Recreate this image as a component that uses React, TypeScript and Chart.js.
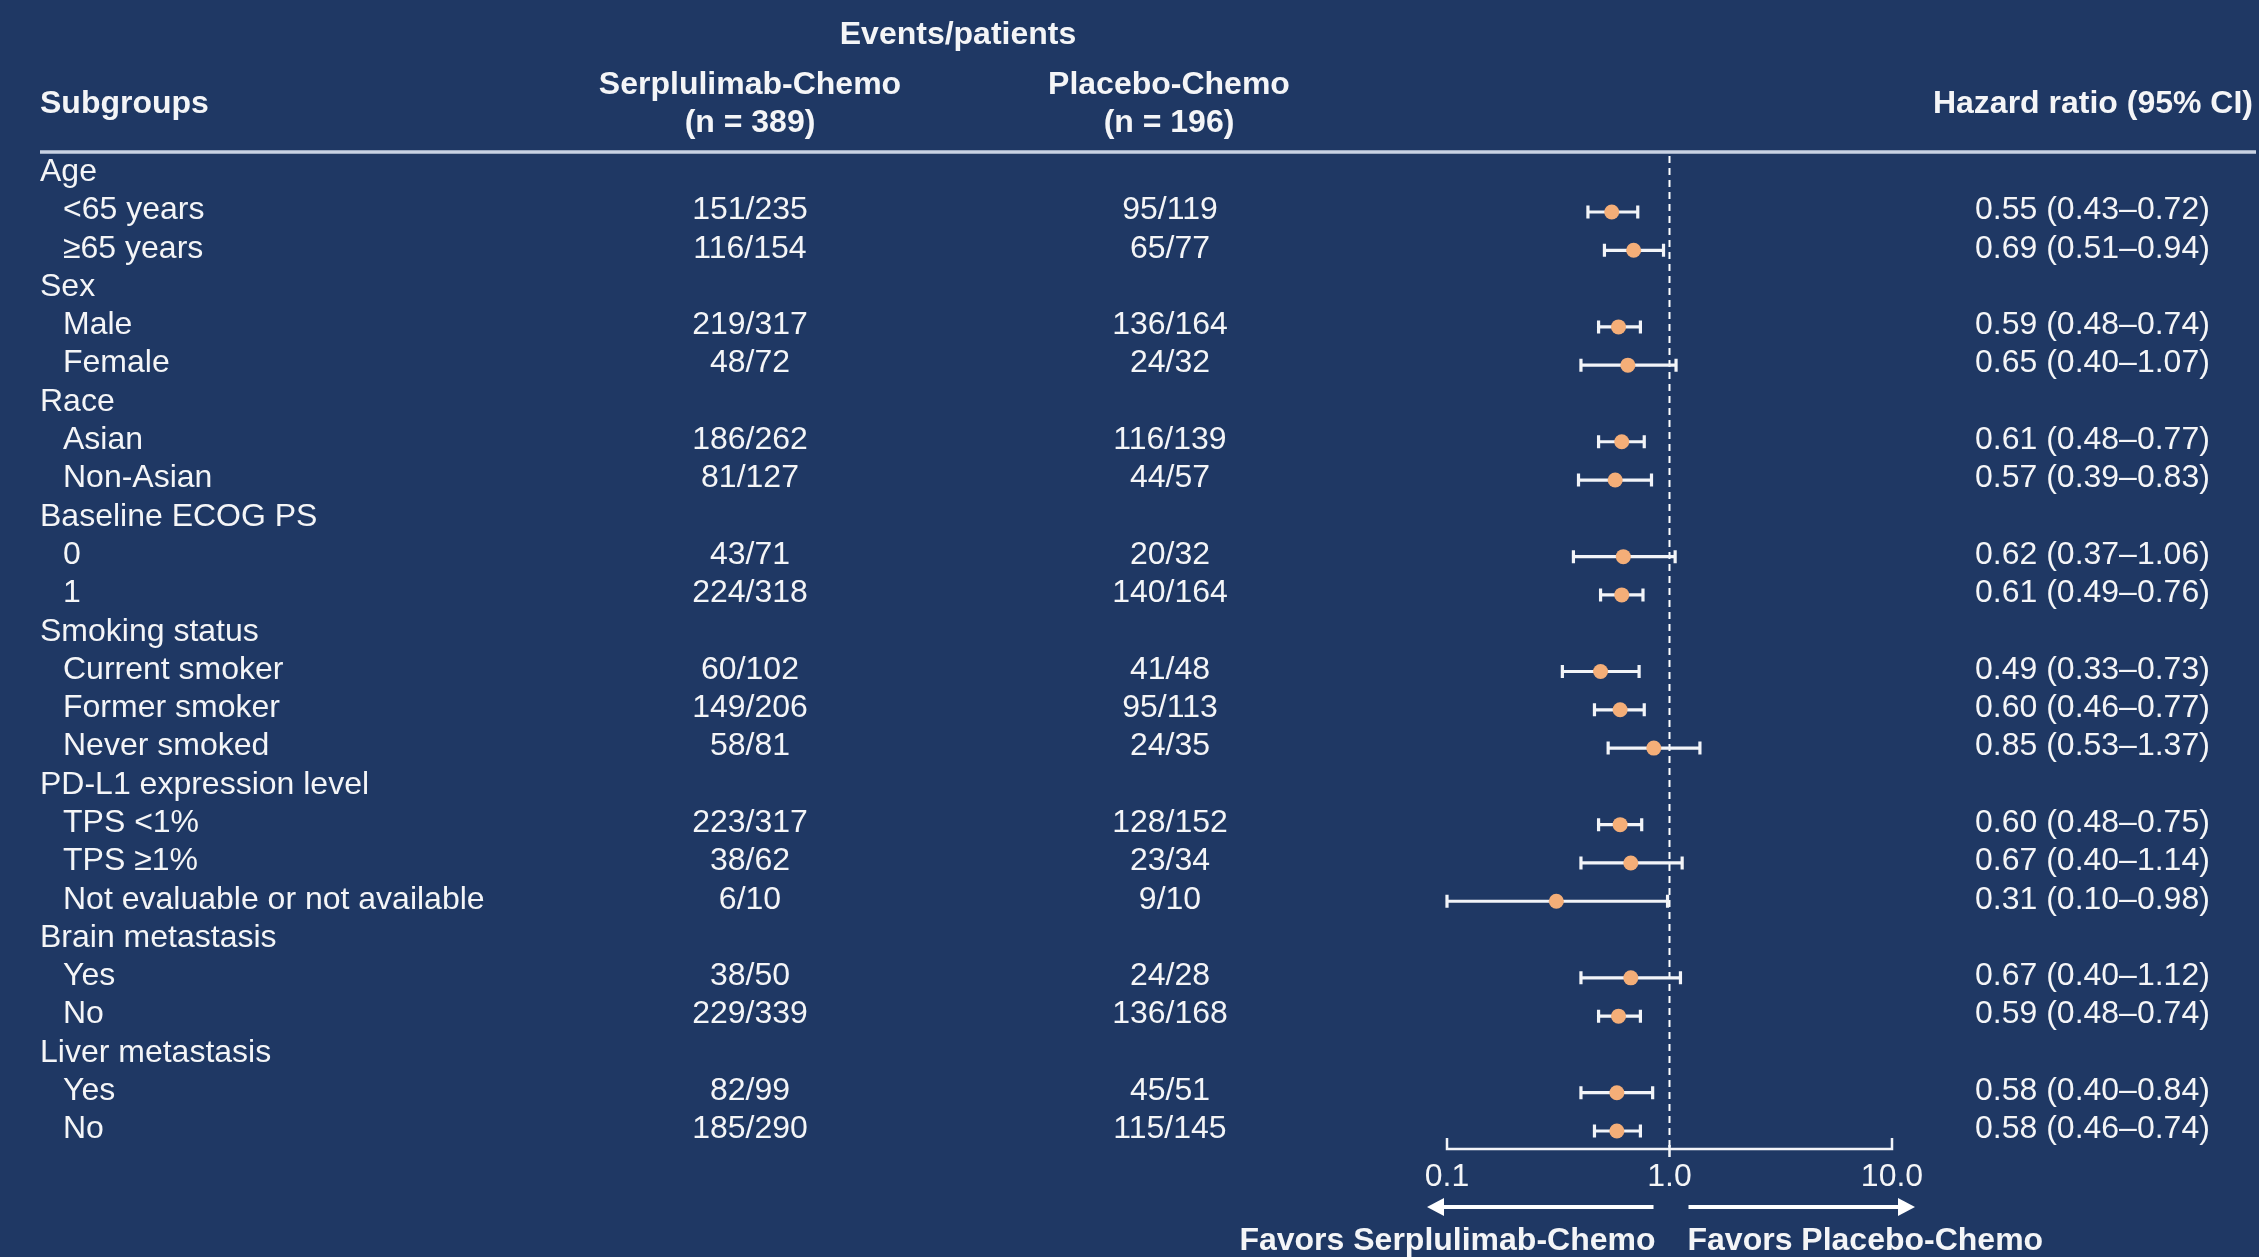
import React, { useEffect, useRef } from "react";
import { Chart, registerables } from "chart.js";

Chart.register(...registerables);

const W = 2259;
const H = 1257;
const BG = "#1F3864";
const TXT = "#F4F5F7";
const DOT = "#F4AE78";
const FONT = '"Liberation Sans", Arial, sans-serif';

const subgroupLabels = [
  "Age", "<65 years", "≥65 years",
  "Sex", "Male", "Female",
  "Race", "Asian", "Non-Asian",
  "Baseline ECOG PS", "0", "1",
  "Smoking status", "Current smoker", "Former smoker", "Never smoked",
  "PD-L1 expression level", "TPS <1%", "TPS ≥1%", "Not evaluable or not available",
  "Brain metastasis", "Yes", "No",
  "Liver metastasis", "Yes", "No",
];

const rowIsHeader = [
  true, false, false,
  true, false, false,
  true, false, false,
  true, false, false,
  true, false, false, false,
  true, false, false, false,
  true, false, false,
  true, false, false,
];

const serplulimabEvents = [
  null, "151/235", "116/154",
  null, "219/317", "48/72",
  null, "186/262", "81/127",
  null, "43/71", "224/318",
  null, "60/102", "149/206", "58/81",
  null, "223/317", "38/62", "6/10",
  null, "38/50", "229/339",
  null, "82/99", "185/290",
];

const placeboEvents = [
  null, "95/119", "65/77",
  null, "136/164", "24/32",
  null, "116/139", "44/57",
  null, "20/32", "140/164",
  null, "41/48", "95/113", "24/35",
  null, "128/152", "23/34", "9/10",
  null, "24/28", "136/168",
  null, "45/51", "115/145",
];

const hazardRatio = [
  null, 0.55, 0.69,
  null, 0.59, 0.65,
  null, 0.61, 0.57,
  null, 0.62, 0.61,
  null, 0.49, 0.60, 0.85,
  null, 0.60, 0.67, 0.31,
  null, 0.67, 0.59,
  null, 0.58, 0.58,
];

const ciLow = [
  null, 0.43, 0.51,
  null, 0.48, 0.40,
  null, 0.48, 0.39,
  null, 0.37, 0.49,
  null, 0.33, 0.46, 0.53,
  null, 0.48, 0.40, 0.10,
  null, 0.40, 0.48,
  null, 0.40, 0.46,
];

const ciHigh = [
  null, 0.72, 0.94,
  null, 0.74, 1.07,
  null, 0.77, 0.83,
  null, 1.06, 0.76,
  null, 0.73, 0.77, 1.37,
  null, 0.75, 1.14, 0.98,
  null, 1.12, 0.74,
  null, 0.84, 0.74,
];

const xTicks = [0.1, 1, 10];

const fmt = (v: number) => v.toFixed(2);

const forestPlugin = {
  id: "forest",
  beforeDraw(chart: any) {
    const ctx = chart.ctx;
    ctx.save();
    ctx.fillStyle = BG;
    ctx.fillRect(0, 0, chart.width, chart.height);
    ctx.restore();
  },
  beforeDatasetsDraw(chart: any) {
    const { ctx, chartArea } = chart;
    const x = chart.scales.x;
    const y = chart.scales.y;
    ctx.save();
    // header rule
    ctx.strokeStyle = "#C9D2E3";
    ctx.lineWidth = 3.5;
    ctx.beginPath();
    ctx.moveTo(40, chartArea.top);
    ctx.lineTo(2256, chartArea.top);
    ctx.stroke();
    // reference dashed line at HR = 1
    const x1 = x.getPixelForValue(1);
    ctx.strokeStyle = "#FFFFFF";
    ctx.lineWidth = 2;
    ctx.setLineDash([7, 5]);
    ctx.beginPath();
    ctx.moveTo(x1, chartArea.top + 4);
    ctx.lineTo(x1, chartArea.bottom);
    ctx.stroke();
    ctx.setLineDash([]);
    // error bars
    ctx.strokeStyle = "#F2F4F8";
    ctx.lineWidth = 3.2;
    for (let i = 0; i < hazardRatio.length; i++) {
      const lo = ciLow[i];
      const hi = ciHigh[i];
      if (lo == null || hi == null) continue;
      const py = y.getPixelForValue(i);
      const pl = x.getPixelForValue(lo);
      const ph = x.getPixelForValue(hi);
      ctx.beginPath();
      ctx.moveTo(pl, py);
      ctx.lineTo(ph, py);
      ctx.moveTo(pl, py - 6.5);
      ctx.lineTo(pl, py + 6.5);
      ctx.moveTo(ph, py - 6.5);
      ctx.lineTo(ph, py + 6.5);
      ctx.stroke();
    }
    ctx.restore();
  },
  afterDraw(chart: any) {
    const { ctx, chartArea } = chart;
    const x = chart.scales.x;
    const y = chart.scales.y;
    ctx.save();
    ctx.fillStyle = TXT;

    // column headers
    ctx.font = `bold 32px ${FONT}`;
    ctx.textBaseline = "middle";
    ctx.textAlign = "center";
    ctx.fillText("Events/patients", 958, 35.5);
    ctx.fillText("Serplulimab-Chemo", 750, 85.5);
    ctx.fillText("(n = 389)", 750, 123.5);
    ctx.fillText("Placebo-Chemo", 1169, 85.5);
    ctx.fillText("(n = 196)", 1169, 123.5);
    ctx.textAlign = "left";
    ctx.fillText("Subgroups", 40, 104.5);
    ctx.textAlign = "right";
    ctx.fillText("Hazard ratio (95% CI)", 2253, 104.5);

    // rows
    ctx.font = `32px ${FONT}`;
    for (let i = 0; i < subgroupLabels.length; i++) {
      const ty = y.getPixelForValue(i) - 1.5;
      ctx.textAlign = "left";
      ctx.fillText(subgroupLabels[i], rowIsHeader[i] ? 40 : 63, ty);
      const se = serplulimabEvents[i];
      const pe = placeboEvents[i];
      ctx.textAlign = "center";
      if (se) ctx.fillText(se, 750, ty);
      if (pe) ctx.fillText(pe, 1170, ty);
      const hr = hazardRatio[i];
      const lo = ciLow[i];
      const hi = ciHigh[i];
      if (hr != null && lo != null && hi != null) {
        ctx.textAlign = "left";
        ctx.fillText(`${fmt(hr)} (${fmt(lo)}–${fmt(hi)})`, 1975, ty);
      }
    }

    // x axis
    const by = chartArea.bottom;
    const xa = x.getPixelForValue(xTicks[0]);
    const xb = x.getPixelForValue(xTicks[xTicks.length - 1]);
    const x1 = x.getPixelForValue(1);
    ctx.strokeStyle = "#F2F4F8";
    ctx.lineWidth = 2.5;
    ctx.beginPath();
    ctx.moveTo(xa, by - 11);
    ctx.lineTo(xa, by);
    ctx.lineTo(xb, by);
    ctx.lineTo(xb, by - 11);
    ctx.moveTo(x1, by - 4);
    ctx.lineTo(x1, by + 8);
    ctx.stroke();

    ctx.textAlign = "center";
    ctx.font = `32px ${FONT}`;
    for (const t of xTicks) {
      ctx.fillText(t.toFixed(1), x.getPixelForValue(t), by + 28.5);
    }

    // arrows
    const ay = by + 58;
    ctx.strokeStyle = "#FFFFFF";
    ctx.fillStyle = "#FFFFFF";
    ctx.lineWidth = 4;
    const lStart = x1 - 16;
    const lEnd = xa - 20;
    const rStart = x1 + 19;
    const rEnd = xb + 23;
    ctx.beginPath();
    ctx.moveTo(lStart, ay);
    ctx.lineTo(lEnd + 12, ay);
    ctx.moveTo(rStart, ay);
    ctx.lineTo(rEnd - 12, ay);
    ctx.stroke();
    ctx.beginPath();
    ctx.moveTo(lEnd, ay);
    ctx.lineTo(lEnd + 17, ay - 9);
    ctx.lineTo(lEnd + 17, ay + 9);
    ctx.closePath();
    ctx.fill();
    ctx.beginPath();
    ctx.moveTo(rEnd, ay);
    ctx.lineTo(rEnd - 17, ay - 9);
    ctx.lineTo(rEnd - 17, ay + 9);
    ctx.closePath();
    ctx.fill();

    ctx.fillStyle = TXT;
    ctx.font = `bold 32px ${FONT}`;
    ctx.textAlign = "right";
    ctx.fillText("Favors Serplulimab-Chemo", x1 - 14, by + 92.5);
    ctx.textAlign = "left";
    ctx.fillText("Favors Placebo-Chemo", x1 + 18, by + 92.5);
    ctx.restore();
  },
};

export default function App() {
  const ref = useRef<HTMLCanvasElement | null>(null);
  useEffect(() => {
    if (!ref.current) return;
    const points: { x: number; y: number }[] = [];
    hazardRatio.forEach((v, i) => {
      if (v != null) points.push({ x: v, y: i });
    });
    const chart = new Chart(ref.current, {
      type: "scatter",
      data: {
        datasets: [
          {
            data: points,
            pointRadius: 7.5,
            pointHoverRadius: 7.5,
            pointBackgroundColor: DOT,
            pointBorderWidth: 0,
            borderColor: DOT,
            showLine: false,
          },
        ],
      },
      options: {
        animation: false,
        responsive: false,
        devicePixelRatio: 1,
        events: [],
        layout: { padding: { left: 1447, right: 367, top: 152, bottom: 108 } },
        scales: {
          x: { type: "logarithmic", min: 0.1, max: 10, display: false },
          y: { type: "linear", min: -0.567, max: 25.47, reverse: true, display: false },
        },
        plugins: {
          legend: { display: false },
          tooltip: { enabled: false },
          title: { display: false },
        },
      },
      plugins: [forestPlugin],
    });
    return () => chart.destroy();
  }, []);
  return (
    <div style={{ position: "fixed", left: 0, top: 0, width: W, height: H, background: BG }}>
      <canvas ref={ref} width={W} height={H} style={{ width: W, height: H, display: "block" }} />
    </div>
  );
}
